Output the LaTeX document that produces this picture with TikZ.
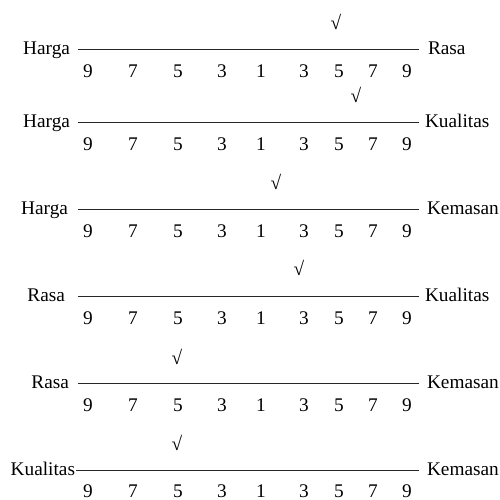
\documentclass[tikz,border=0pt]{standalone}
\usepackage{fontspec}
\setmainfont{Liberation Serif}
\begin{document}
\begin{tikzpicture}[x=1pt,y=-1pt,
  txt/.style={inner sep=0pt,outer sep=0pt,font=\fontsize{19.3}{23}\selectfont},
  leftlab/.style={txt,anchor=base east},
  rightlab/.style={txt,anchor=base west},
  num/.style={txt,anchor=base},
  tick/.style={txt,anchor=center},
  scaleline/.style={line width=0.8pt,draw=black!85}]
\useasboundingbox (0,0) rectangle (500,499);
% rows: index/line y/left label/right x of left label/right label/left x of right label/line start/check x/check y/number offset
\foreach \i/\y/\L/\lx/\R/\rx/\ls/\cx/\cy/\no in {
  1/49/Harga/70/Rasa/428/78/336/22/28,
  2/122/Harga/70/Kualitas/425/78/356/95/28,
  3/209/Harga/68/Kemasan/427/78/276/182/28,
  4/296/Rasa/65/Kualitas/425/78/299/268/28,
  5/383/Rasa/69/Kemasan/427/78/177/357/28,
  6/470/Kualitas/75/Kemasan/427/76/177/443/27}{
  \node[leftlab] (left\i) at (\lx,\y+5) {\L};
  \node[rightlab] (right\i) at (\rx,\y+5) {\R};
  \coordinate (s\i) at (\ls,\y);
  \coordinate (e\i) at (419,\y);
  \draw[scaleline] (s\i) -- (e\i);
  \foreach \v/\x [count=\k] in {9/88,7/133,5/178,3/222,1/261,3/304,5/339,7/373,9/407}{
    \node[num] (n\i-\k) at (\x,\y+\no) {\v};
  }
  \node[tick] (c\i) at (\cx,\cy) {√};
}
\end{tikzpicture}
\end{document}
